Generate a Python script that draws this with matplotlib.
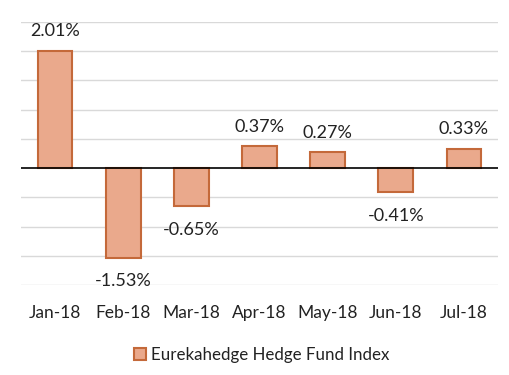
import matplotlib.pyplot as plt

months = ["Jan-18", "Feb-18", "Mar-18", "Apr-18", "May-18", "Jun-18", "Jul-18"]
returns = [2.01, -1.53, -0.65, 0.37, 0.27, -0.41, 0.33]
series_name = "Eurekahedge Hedge Fund Index"

plt.rcParams['font.family'] = ['Lato', 'DejaVu Sans']

fig = plt.figure(figsize=(5.1, 3.75), dpi=100)
ax = fig.add_axes([21/510, 1 - 285/375, 477/510, 263/375])

x = list(range(len(months)))
bars = ax.bar(x, returns, width=0.51, color="#EAA98C", edgecolor="#C4693A",
              linewidth=1.5, label=series_name, zorder=3)

for xi, v in zip(x, returns):
    if v >= 0:
        ax.text(xi, v + 0.2, f"{v:.2f}%", ha="center", va="bottom",
                fontsize=13, color="#222222")
    else:
        ax.text(xi, v - 0.27, f"{v:.2f}%", ha="center", va="top",
                fontsize=13, color="#222222")

ax.set_xlim(-0.5, len(months) - 0.5)
ax.set_ylim(-2.0, 2.5)
ax.set_yticks([-2.0, -1.5, -1.0, -0.5, 0.5, 1.0, 1.5, 2.0, 2.5])
ax.yaxis.grid(True, color="#D9D9D9", linewidth=1, zorder=0)
ax.axhline(0, color="black", linewidth=1.2, zorder=4)
ax.tick_params(axis="y", left=False, labelleft=False)
ax.tick_params(axis="x", bottom=False, pad=11, labelsize=12.5, colors="#222222")
ax.set_xticks(x)
ax.set_xticklabels(months)
for s in ax.spines.values():
    s.set_visible(False)

fig.legend(handles=[bars], labels=[series_name], loc="center",
           bbox_to_anchor=(262/510, 1 - 355/375), frameon=False,
           fontsize=12.2, handlelength=0.7, handleheight=0.7, handletextpad=0.3,
           labelcolor="#222222")

fig.savefig("out.png", dpi=100)
